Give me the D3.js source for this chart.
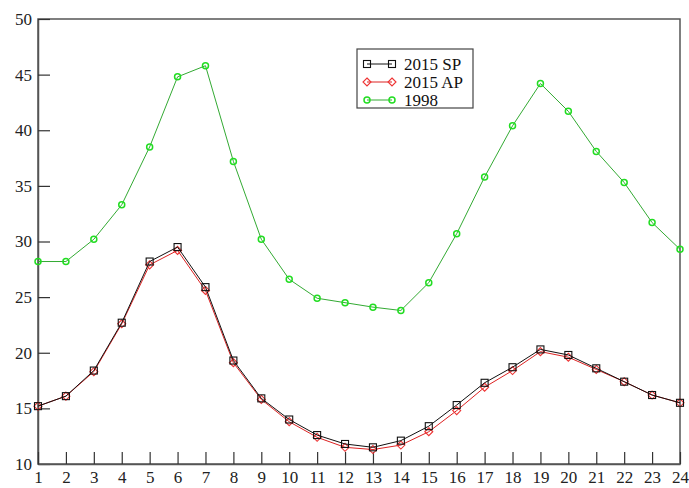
<!DOCTYPE html>
<html>
<head>
<meta charset="utf-8">
<script src="https://cdn.jsdelivr.net/npm/d3@7"></script>
<style>
  body { margin: 0; background: #fff; }
  svg text { font-family: "Liberation Serif", "Times New Roman", serif; }
</style>
</head>
<body>
<div id="chart"></div>
<script>
// hours 1..24
const hours = d3.range(1, 25);

const sp2015 = [15.2, 16.1, 18.4, 22.7, 28.2, 29.5, 25.9, 19.3, 15.9, 14.0, 12.6, 11.8,
                11.5, 12.1, 13.4, 15.3, 17.3, 18.7, 20.3, 19.8, 18.6, 17.4, 16.2, 15.5];
const ap2015 = [15.2, 16.1, 18.3, 22.6, 27.9, 29.2, 25.6, 19.1, 15.8, 13.8, 12.4, 11.5,
                11.3, 11.7, 12.9, 14.8, 16.9, 18.4, 20.1, 19.6, 18.5, 17.4, 16.2, 15.5];
const y1998  = [28.2, 28.2, 30.2, 33.3, 38.5, 44.8, 45.8, 37.2, 30.2, 26.6, 24.9, 24.5,
                24.1, 23.8, 26.3, 30.7, 35.8, 40.4, 44.2, 41.7, 38.1, 35.3, 31.7, 29.3];

const seriesNames = ["2015 SP", "2015 AP", "1998"];
const yTicks = [10, 15, 20, 25, 30, 35, 40, 45, 50];

const w = 689, h = 488;
const mLeft = 38, mRight = 680, mTop = 19, mBottom = 464;

const svg = d3.select("#chart").append("svg")
  .attr("width", w)
  .attr("height", h);

const x = d3.scaleLinear().domain([1, 24]).range([mLeft, mRight]);
const y = d3.scaleLinear().domain([10, 50]).range([mBottom, mTop]);

// frame (top and right lines)
svg.append("rect")
  .attr("x", mLeft).attr("y", mTop)
  .attr("width", mRight - mLeft).attr("height", mBottom - mTop)
  .attr("fill", "none")
  .attr("stroke", "#555")
  .attr("stroke-width", 1.5);

// axes with inward ticks
const yAxis = d3.axisLeft(y).tickValues(yTicks).tickSizeInner(-12).tickSizeOuter(0).tickPadding(6);
const xAxis = d3.axisBottom(x).tickValues(hours).tickSizeInner(-12).tickSizeOuter(0).tickPadding(7);

const gy = svg.append("g").attr("transform", `translate(${mLeft},0)`).call(yAxis);
const gx = svg.append("g").attr("transform", `translate(0,${mBottom})`).call(xAxis);

[gx, gy].forEach(g => {
  g.attr("font-family", "'Liberation Serif', serif");
  g.select(".domain").attr("stroke", "#555").attr("stroke-width", 1.5);
  g.selectAll(".tick line").attr("stroke", "#333").attr("stroke-width", 1.2);
  g.selectAll(".tick text").attr("font-size", 17).attr("fill", "#222");
});

const line = d3.line().x((d, i) => x(hours[i])).y(d => y(d));

const series = [
  { name: seriesNames[0], data: sp2015, line: "#111", mark: "#111", shape: "square" },
  { name: seriesNames[1], data: ap2015, line: "#d22", mark: "#e33", shape: "diamond" },
  { name: seriesNames[2], data: y1998, line: "#3a3", mark: "#2d2", shape: "circle" }
];

// draw a marker at (cx, cy)
function marker(g, shape, cx, cy, color) {
  if (shape === "square") {
    g.append("rect")
      .attr("x", cx - 3.5).attr("y", cy - 3.5)
      .attr("width", 7).attr("height", 7)
      .attr("fill", "none").attr("stroke", color).attr("stroke-width", 1.1);
  } else if (shape === "diamond") {
    g.append("path")
      .attr("d", `M${cx},${cy - 4}L${cx + 4},${cy}L${cx},${cy + 4}L${cx - 4},${cy}Z`)
      .attr("fill", "none").attr("stroke", color).attr("stroke-width", 1.1);
  } else {
    g.append("circle")
      .attr("cx", cx).attr("cy", cy).attr("r", 3)
      .attr("fill", "none").attr("stroke", color).attr("stroke-width", 1.5);
  }
}

// draw green first, then red, then black on top
series.slice().reverse().forEach(s => {
  const g = svg.append("g");
  g.append("path")
    .datum(s.data)
    .attr("d", line)
    .attr("fill", "none")
    .attr("stroke", s.line)
    .attr("stroke-width", 1);
  s.data.forEach((v, i) => marker(g, s.shape, x(hours[i]), y(v), s.mark));
});

// legend
const legend = svg.append("g").attr("transform", "translate(357,49)");
legend.append("rect")
  .attr("width", 116).attr("height", 59)
  .attr("fill", "#fff")
  .attr("stroke", "#444").attr("stroke-width", 1.2);

series.forEach((s, i) => {
  const ly = 15 + i * 18;
  const row = legend.append("g");
  row.append("line")
    .attr("x1", 10).attr("x2", 35).attr("y1", ly).attr("y2", ly)
    .attr("stroke", s.line).attr("stroke-width", 1);
  marker(row, s.shape, 10, ly, s.mark);
  marker(row, s.shape, 35, ly, s.mark);
  row.append("text")
    .attr("x", 47).attr("y", ly + 6)
    .attr("font-size", 17)
    .attr("fill", "#111")
    .text(s.name);
});
</script>
</body>
</html>
